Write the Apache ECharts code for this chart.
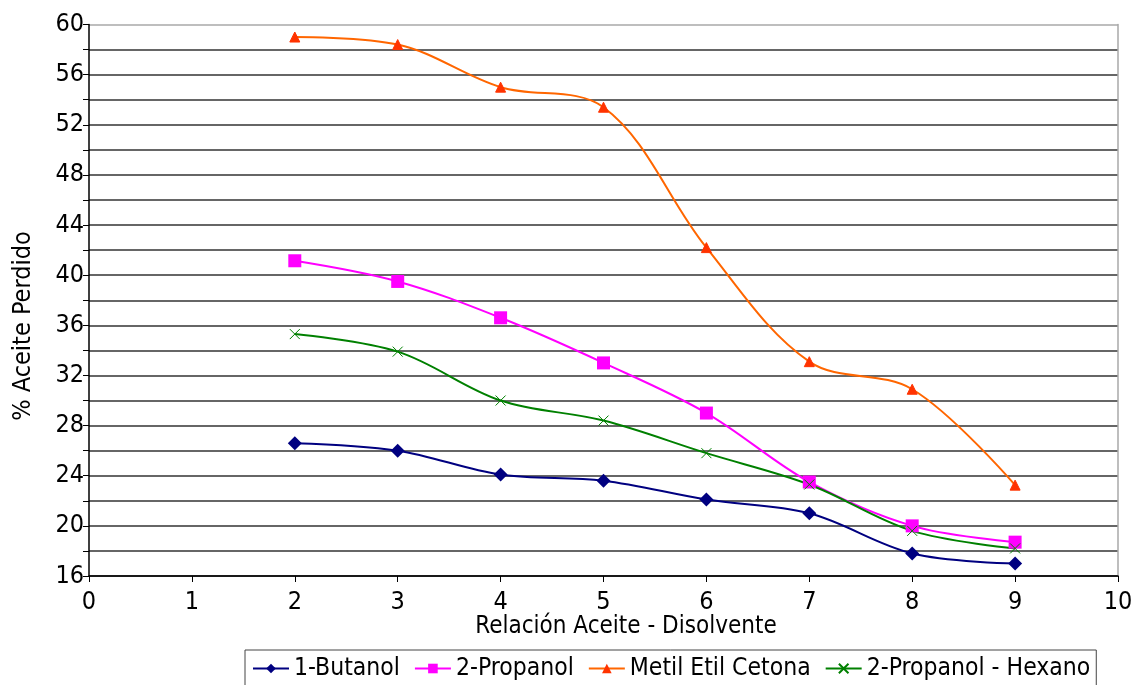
<!DOCTYPE html>
<html>
<head>
<meta charset="utf-8">
<script src="https://cdn.jsdelivr.net/npm/echarts@6/dist/echarts.min.js"></script>
<style>
html,body{margin:0;padding:0;background:#fff;}
#chart{width:1132px;height:685px;}
</style>
</head>
<body>
<div id="chart"></div>
<script>
var xValues = [2, 3, 4, 5, 6, 7, 8, 9];
var butanol = [26.6, 26.0, 24.1, 23.6, 22.1, 21.0, 17.8, 17.0];
var propanol = [41.15, 39.5, 36.6, 33.0, 29.0, 23.5, 20.0, 18.7];
var metil = [59.0, 58.4, 55.0, 53.4, 42.2, 33.1, 30.9, 23.25];
var hexano = [35.3, 33.9, 30.0, 28.4, 25.8, 23.3, 19.6, 18.2];
var seriesNames = ['1-Butanol', '2-Propanol', 'Metil Etil Cetona', '2-Propanol - Hexano'];
var xTitle = 'Relación Aceite - Disolvente';
var yTitle = '% Aceite Perdido';

function pairs(vals){ return xValues.map(function(x,i){ return [x, vals[i]]; }); }

var FONT = '"DejaVu Sans Condensed", "DejaVu Sans", sans-serif';
var gridColors = [];
for (var v = 16; v <= 60; v += 2) gridColors.push(v === 60 ? '#a8a8a8' : '#333333');

var chart = echarts.init(document.getElementById('chart'), null, {renderer:'canvas'});
chart.setOption({
  backgroundColor: '#ffffff',
  animation: false,
  textStyle: {fontFamily: FONT, color: '#000'},
  grid: {left: 89, right: 14, top: 24.5, bottom: 109, containLabel: false, outerBoundsMode: 'none'},
  graphic: [
    {type: 'text', x: 626, y: 627,
     style: {text: xTitle, font: '24px ' + FONT, fill: '#000', textAlign: 'center', textVerticalAlign: 'middle'}},
    {type: 'text', x: 23, y: 326, rotation: Math.PI / 2,
     style: {text: yTitle, font: '25px ' + FONT, fill: '#000', textAlign: 'center', textVerticalAlign: 'middle'}}
  ],
  legend: {
    data: seriesNames,
    left: 245,
    top: 650,
    itemWidth: 36,
    itemHeight: 12,
    itemGap: 14,
    padding: [6, 6, 14, 7],
    borderColor: '#444',
    borderWidth: 1,
    textStyle: {fontFamily: FONT, fontSize: 24.5, color: '#000'}
  },
  xAxis: {
    type: 'value', min: 0, max: 10, interval: 1,
    axisLine: {show: true, lineStyle: {color: '#000', width: 1.5}},
    axisTick: {show: true, length: 6, lineStyle: {color: '#000'}},
    axisLabel: {fontFamily: FONT, fontSize: 25, color: '#000', margin: 14},
    splitLine: {show: false}
  },
  yAxis: [{
    type: 'value', min: 16, max: 60, interval: 2,
    axisLine: {show: true, lineStyle: {color: '#000', width: 1.5}},
    axisTick: {show: true, length: 6, lineStyle: {color: '#000'}},
    axisLabel: {fontFamily: FONT, fontSize: 25, color: '#000', margin: 5,
      formatter: function(v){ return (v % 4 === 0) ? String(v) : ''; }},
    splitLine: {show: true, lineStyle: {color: gridColors, width: 1.5}}
  }, {
    type: 'value', min: 16, max: 60, interval: 2, position: 'right',
    axisLine: {show: true, lineStyle: {color: '#a8a8a8', width: 1.5}},
    axisTick: {show: false}, axisLabel: {show: false}, splitLine: {show: false}
  }],
  series: [
    {name: seriesNames[0], type: 'line', smooth: 0.35, data: pairs(butanol),
     symbol: 'diamond', symbolSize: 14,
     lineStyle: {color: '#000080', width: 2}, itemStyle: {color: '#000080'}},
    {name: seriesNames[1], type: 'line', smooth: 0.35, data: pairs(propanol),
     symbol: 'rect', symbolSize: 13,
     lineStyle: {color: '#ff00ff', width: 2}, itemStyle: {color: '#ff00ff'}},
    {name: seriesNames[2], type: 'line', smooth: 0.35, data: pairs(metil),
     symbol: 'triangle', symbolSize: 10,
     lineStyle: {color: '#ff6600', width: 2}, itemStyle: {color: '#ff3300', borderColor: '#ff3300'}},
    {name: seriesNames[3], type: 'line', smooth: 0.35, data: pairs(hexano),
     symbol: 'path://M0,0 L10,10 M10,0 L0,10', symbolSize: 10,
     lineStyle: {color: '#008000', width: 2}, itemStyle: {color: 'rgba(0,0,0,0)', borderColor: '#008000', borderWidth: 1}}
  ]
});
</script>
</body>
</html>
